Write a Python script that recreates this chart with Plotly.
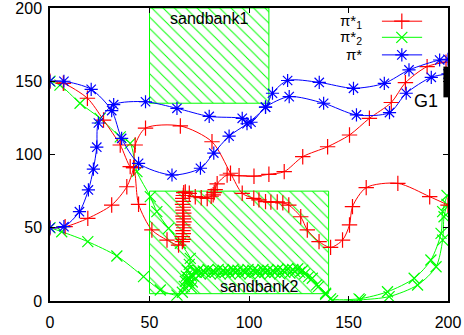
import plotly.graph_objects as go

# ---------------- data ----------------
# obstacles (sandbanks) and goal
sb1_x = [50, 110, 110, 50, 50]
sb1_y = [135, 135, 200, 200, 135]
sb2_x = [50, 140, 140, 50, 50]
sb2_y = [5, 5, 75, 75, 5]
goal_x = [197.7, 200]
goal_y = [139, 160]

# pi*_1 (red) trajectories
r1_x = [0, 7.6, 19, 31, 38.6, 42, 42.8, 48, 65.5, 81.4, 90.7, 96.6, 102.4, 105, 108.3, 111, 114.2, 117, 120,
        126, 129.3, 135.2, 141, 147, 150.5, 152, 158.9, 174.8, 190.8, 200]
r1_y = [50, 50.7, 56.4, 65.5, 78, 91, 106.5, 118, 119.5, 108.7, 87.2, 73.5, 70.1, 69, 67.8, 67.5, 67.6, 67, 65.5,
        57.5, 48.5, 40.5, 36.6, 41.6, 51.9, 64.4, 77.4, 80.3, 71.2, 65.5]
r2_x = [0, 6.7, 18.8, 26.9, 35.3, 40.3, 42, 44.5, 51.2, 58.8, 64.6,
        66.5, 67, 66.5, 67, 66.8, 67.2, 66.8, 67.3, 67, 66.8, 67.2, 66.8, 67, 66.6, 67, 66.7, 67, 67.2,
        68, 70, 73, 76, 79, 81, 82, 82.5, 83, 84, 89, 95, 102.5, 110, 117.7,
        127, 139.5, 150.5, 160.5, 171.5, 178.6, 189.5, 199]
r2_y = [150, 148.6, 138.4, 123.5, 106.5, 91.7, 91, 66, 48.5, 41.6, 38.2,
        40.5, 42, 44, 46, 48, 50, 52, 54, 56, 58, 60, 62, 64, 66, 68, 70, 72, 74,
        74.5, 73.5, 71.2, 70.5, 70, 71.5, 72.5, 74, 76, 80, 86, 85.5, 85.2, 86.5, 88.3,
        98.5, 105.3, 113.3, 124.7, 135.5, 149, 160, 163]

# pi*_2 (green) trajectories
g1_x = [0, 5, 15.1, 25.2, 35.3, 40.3, 43.7, 50.4, 53.7, 59.6, 65.5, 70.5,
        70, 69, 68.5, 69.5, 71, 72.5, 74.5, 77, 79.5, 82, 84.5, 87, 89.5, 92, 94.5, 97, 99.5, 102,
        104.5, 107, 109.5, 112, 114.5, 117, 119.5, 122, 124.5, 127,
        130, 134, 138.5, 142, 156, 170.4, 184.7, 194, 197.3, 198, 199.5]
g1_y = [150, 147.4, 135, 124.7, 112, 107.6, 88.3, 71.2, 61, 49.6, 39.4, 29.1,
        25, 21, 17, 14, 17, 20, 21, 20.5, 21.5, 20.5, 21.5, 21, 20.5, 21.5, 21, 20.5, 21.5, 21,
        20.5, 21.5, 21, 20.5, 21.5, 21, 22, 21.5, 22, 21,
        16.6, 11, 5.3, 0.3, 0.8, 3, 10.9, 23.4, 41.6, 57.5, 66]
g2_x = [0, 5.9, 19, 33.6, 47, 55.4, 63.8, 66.5, 67.5, 68, 69.5, 70, 71, 71.5, 72,
        73.5, 75.5, 78, 80.5, 83, 85.5, 88, 90.5, 93, 95.5, 98, 100.5, 103, 105.5, 108,
        110.5, 113, 115.5, 118, 120.5, 123, 125.5, 128,
        131.8, 135, 138.5, 141, 155.3, 169.6, 183, 191.4, 196.5, 197.3, 199.5]
g2_y = [50, 47.3, 40.5, 30.7, 16.6, 7.5, 4, 6, 10, 13.5, 16, 12, 9, 13, 17,
        19.5, 18.5, 19.5, 18.5, 19.5, 18.5, 19.5, 18.5, 19.5, 18.5, 19.5, 18.5, 19.5, 18.5, 19.5,
        18.5, 19.5, 18.5, 19.5, 19, 20, 19.5, 18.5,
        15.5, 10, 4.5, 1.5, 1.5, 6.3, 15.5, 28, 46.2, 61, 72]

# pi* (blue) trajectories
b1_x = [0, 7, 20.7, 31, 36, 44.5, 61.3, 75.6, 82.3, 90, 99, 108.3, 111.8, 119.4, 135.3, 152.5, 168,
        180.4, 195.8, 200]
b1_y = [150, 150, 144.5, 130, 111, 94, 86, 90.6, 101, 112.5, 121, 132.3, 141.8, 150.5, 149.2, 145.2, 148.6,
        157.7, 164.5, 165]
b2_x = [0, 7, 14.8, 19.3, 21.8, 23.5, 24.3, 32, 48, 63.8, 80, 96.6, 101, 108.3, 120.2, 137.5, 154,
        170.6, 179, 191.6, 200]
b2_y = [50, 50.7, 61, 75.8, 90, 105, 121.5, 134, 136, 131.5, 126, 124.7, 122, 132.3, 139.5, 135, 127,
        128.6, 141.8, 152.7, 155]

key_labels = ["π*<sub>1</sub>", "π*<sub>2</sub>", "π*"]

RED, GREEN, BLUE = "#ff0000", "#00ff00", "#0000ff"
FONT = "Liberation Sans, Arial, sans-serif"

fig = go.Figure()

def bank(x, y):
    fig.add_trace(go.Scatter(
        x=x, y=y, mode="lines", fill="toself",
        line=dict(color=GREEN, width=1),
        fillcolor="rgba(255,255,255,0)",
        fillpattern=dict(shape="\\", fgcolor=GREEN, bgcolor="rgba(255,255,255,0)",
                         size=8, solidity=0.12, fillmode="replace"),
        hoverinfo="skip", showlegend=False))

bank(sb1_x, sb1_y)
bank(sb2_x, sb2_y)

def path(x, y, color, symbol):
    fig.add_trace(go.Scatter(
        x=x, y=y, mode="lines+markers",
        line=dict(color=color, width=1, shape="spline", smoothing=0.8),
        marker=dict(symbol=symbol, size=11, color=color, line=dict(width=1.2, color=color)),
        showlegend=False, cliponaxis=True))

path(g1_x, g1_y, GREEN, "x-thin")
path(g2_x, g2_y, GREEN, "x-thin")
path(r1_x, r1_y, RED, "cross-thin")
path(r2_x, r2_y, RED, "cross-thin")
path(b1_x, b1_y, BLUE, "asterisk")
path(b2_x, b2_y, BLUE, "asterisk")

# goal
fig.add_shape(type="rect", xref="x", yref="y", x0=goal_x[0], x1=goal_x[1], y0=goal_y[0], y1=goal_y[1],
              fillcolor="black", line=dict(width=0))

# text labels
fig.add_annotation(x=80, y=193, text="sandbank1", showarrow=False, font=dict(size=16, family=FONT, color="black"))
fig.add_annotation(x=105, y=9.6, text="sandbank2", showarrow=False, font=dict(size=16, family=FONT, color="black"))
fig.add_annotation(x=188.9, y=136.5, text="G1", showarrow=False, font=dict(size=18, family=FONT, color="black"))

# key (gnuplot style: text then sample)
key_rows = [0.955, 0.9, 0.84]
key_colors = [RED, GREEN, BLUE]
key_symbols = ["cross-thin", "x-thin", "asterisk"]
for lab, ry, c, s in zip(key_labels, key_rows, key_colors, key_symbols):
    fig.add_annotation(xref="paper", yref="paper", x=0.79, y=ry, xanchor="right", yanchor="middle",
                       text=lab, showarrow=False, font=dict(size=15, family=FONT, color="black"))
    fig.add_trace(go.Scatter(x=[0.834, 0.935], y=[ry, ry], xaxis="x2", yaxis="y2", mode="lines",
                             line=dict(color=c, width=1), showlegend=False, hoverinfo="skip"))
    fig.add_trace(go.Scatter(x=[0.884], y=[ry], xaxis="x2", yaxis="y2", mode="markers",
                             marker=dict(symbol=s, size=11, color=c, line=dict(width=1.2, color=c)),
                             showlegend=False, hoverinfo="skip"))

axis_common = dict(range=[0, 200], tickvals=[0, 50, 100, 150, 200], ticks="inside", ticklen=5,
                   tickcolor="black", showline=True, linecolor="black", linewidth=1.5, mirror="ticks",
                   showgrid=False, zeroline=False, automargin=False, ticklabeloverflow="allow",
                   tickfont=dict(size=16, family=FONT, color="black"))

fig.update_layout(
    width=464, height=335,
    margin=dict(l=50, r=16, t=8, b=34, autoexpand=False),
    paper_bgcolor="white", plot_bgcolor="white",
    xaxis=dict(**axis_common, ticklabelstandoff=6),
    yaxis=dict(**axis_common, ticklabelstandoff=3),
    xaxis2=dict(overlaying="x", range=[0, 1], visible=False, automargin=False),
    yaxis2=dict(overlaying="y", range=[0, 1], visible=False, automargin=False),
    showlegend=False,
)

fig.write_html("out.html")
